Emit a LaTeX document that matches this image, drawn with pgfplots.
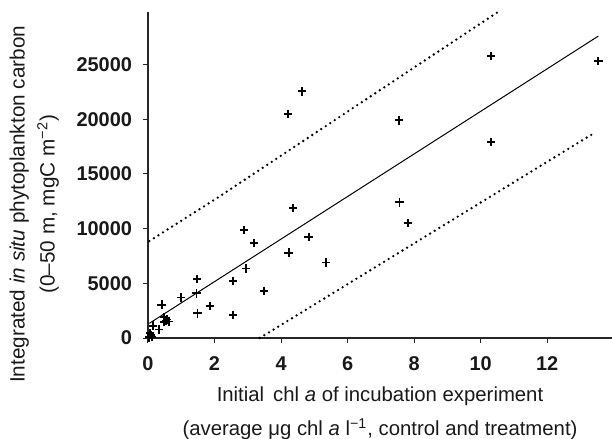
\documentclass[border=0pt]{standalone}
\usepackage{fontspec}
\setmainfont{Liberation Sans}
\usepackage{pgfplots}
\pgfplotsset{compat=1.18}

\begin{document}
\begin{tikzpicture}
\begin{axis}[name=ax,
  scale only axis, width=232bp, height=163bp,
  xmin=0, xmax=13.95, ymin=0, ymax=29800,
  axis x line=bottom, axis y line=left,
  axis line style={-, black!85, line width=0.6pt},
  xtick={0,2,...,12}, ytick={0,5000,...,25000},
  tick align=outside, major tick length=2.5bp,
  tick style={black!85, line width=0.5pt},
  scaled y ticks=false,
  /pgf/number format/1000 sep={},
  /pgf/number format/assume math mode=true,
  tick label style={font=\bfseries\fontsize{10}{12}\selectfont, black!90},
  xticklabel style={yshift=-3.5bp},
  yticklabel style={xshift=-2bp},
  label style={align=center, black!90},
  xlabel style={font=\fontsize{10.2}{17}\selectfont, yshift=-1bp},
  ylabel style={font=\fontsize{10.4}{15}\selectfont, at={(ticklabel cs:0.41,2bp)}},
  xlabel={Initial\, chl \textit{a} of incubation experiment\\(average μg chl \textit{a} l\textsuperscript{−1}, control and treatment)},
  ylabel={Integrated \textit{in situ} phytoplankton carbon\\(0–50 m, mgC m\textsuperscript{−2})},
  clip=false]
% regression line and prediction limits
\addplot[black, line width=0.5pt, no marks] coordinates {(0.04,1340) (13.54,27600)};
\addplot[black, line width=1.3pt, line cap=round, dash pattern=on 0pt off 2.7bp, no marks] coordinates {(0.04,8860) (2.13,12900) (10.57,29900)};
\addplot[black, line width=1.3pt, line cap=round, dash pattern=on 0pt off 2.7bp, no marks] coordinates {(3.36,0) (13.42,18750)};
% observations
\addplot[only marks, mark=+, mark size=2.1bp, mark options={line width=0.9pt, black}] coordinates {
(10.32,25800) (13.54,25300) (7.54,19900) (10.32,17900) (7.56,12400) (7.82,10500)
(4.63,22550) (4.21,20450) (4.36,11900) (2.89,9860) (3.18,8700) (4.83,9250)
(4.23,7800) (5.35,6900) (2.94,6350) (2.56,5200) (3.49,4300) (2.56,2100)
(1.48,5390) (1.46,4080) (1.00,3700) (0.41,3050) (1.86,2950) (1.49,2250)
(0.49,1900) (0.54,1550) (0.64,1500) (0.48,1460) (0.58,1700) (0.33,780)
(0.15,1130) (0.06,430) (0.03,60) (0.11,100) (0.09,270)};
\end{axis}
\pgfresetboundingbox
\path (-74bp,-50.5bp) rectangle (232bp,169bp);
\end{tikzpicture}
\end{document}
